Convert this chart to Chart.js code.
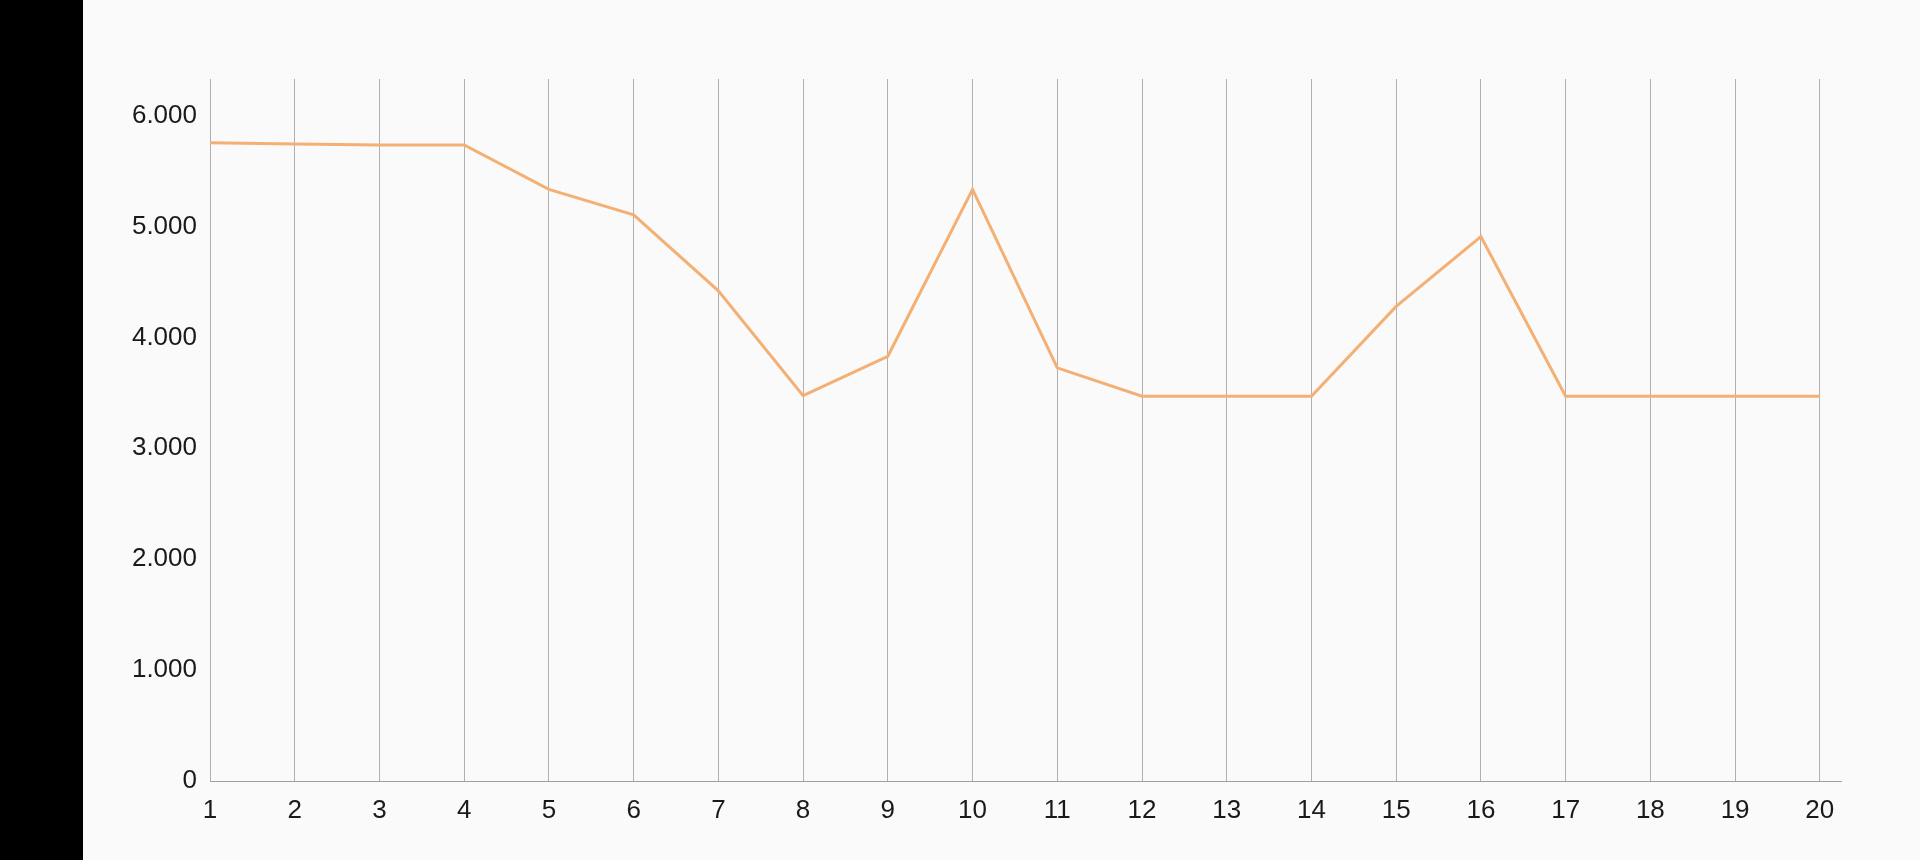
<!DOCTYPE html>
<html>
<head>
<meta charset="utf-8">
<script src="https://cdn.jsdelivr.net/npm/chart.js@4.4.0/dist/chart.umd.min.js"></script>
<style>
  html, body { margin: 0; padding: 0; background: #fafafa; }
  #side { position: absolute; left: 0; top: 0; width: 83px; height: 860px; background: #000; }
  #wrap { position: absolute; left: 83px; top: 0; width: 1837px; height: 860px; }
</style>
</head>
<body>
<div id="side"></div>
<div id="wrap"><canvas id="myChart"></canvas></div>
<script>
/* Data */
let labels = [1, 2, 3, 4, 5, 6, 7, 8, 9, 10, 11, 12, 13, 14, 15, 16, 17, 18, 19, 20]
let values = [5755, 5745, 5735, 5735, 5335, 5105, 4420, 3475, 3830, 5335,
              3725, 3470, 3470, 3470, 4280, 4910, 3470, 3470, 3470, 3470]
let yTicks = [0, 1000, 2000, 3000, 4000, 5000, 6000]

/* 6000 -> 6.000 */
function formatNumber(n){
    return String(n).replace(/\B(?=(\d{3})+(?!\d))/g, '.')
}

const points = labels.map((x, i) => ({ x: x, y: values[i] }))
const tickFont = { family: 'Liberation Sans', size: 26 }

const ctx = document.getElementById('myChart').getContext('2d')
const myChart = new Chart(ctx, {
    type: 'line',
    data: {
        datasets: [{
            data: points,
            borderColor: 'rgb(244, 176, 116)',
            borderWidth: 3,
            pointRadius: 0,
            tension: 0,
            fill: false
        }]
    },
    options: {
        animation: false,
        responsive: true,
        maintainAspectRatio: false,
        layout: { padding: { top: 79, right: 79, bottom: 0, left: 0 } },
        plugins: { legend: { display: false }, tooltip: { enabled: false } },
        scales: {
            x: {
                type: 'linear',
                min: labels[0],
                max: labels[labels.length - 1] + 0.25,
                afterBuildTicks: (scale) => {
                    scale.ticks = labels.map(v => ({ value: v }))
                },
                afterFit: (scale) => { scale.height = 79 },
                grid: { color: '#b0b0b0', lineWidth: 1, drawTicks: false },
                border: { display: true, color: '#a0a0a0', width: 1 },
                ticks: {
                    color: '#1a1a1a',
                    font: tickFont,
                    padding: 14,
                    maxRotation: 0,
                    autoSkip: false,
                    callback: (v) => String(v)
                }
            },
            y: {
                min: 0,
                max: 6330,
                afterBuildTicks: (scale) => {
                    scale.ticks = yTicks.map(v => ({ value: v }))
                },
                afterFit: (scale) => { scale.width = 127 },
                grid: { display: false, drawTicks: false },
                border: { display: false },
                ticks: {
                    color: '#1a1a1a',
                    font: tickFont,
                    padding: 13,
                    callback: (v) => formatNumber(v)
                }
            }
        }
    }
})
</script>
</body>
</html>
